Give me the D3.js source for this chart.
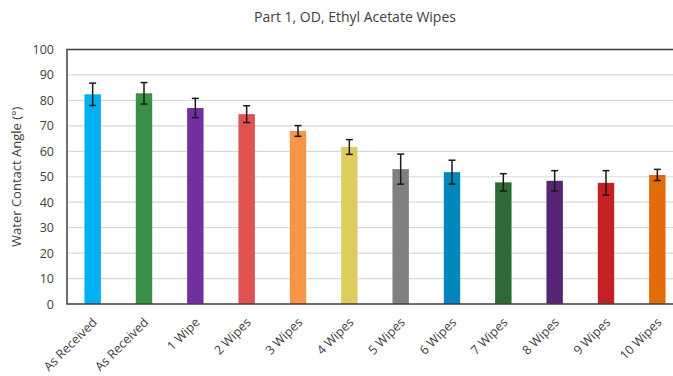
<!DOCTYPE html>
<html>
<head>
<meta charset="utf-8">
<script src="https://cdn.jsdelivr.net/npm/d3@7"></script>
<style>
  body { margin: 0; background: #fff; }
  svg { display: block; font-family: "Open Sans", "Noto Sans", sans-serif; }
</style>
</head>
<body>
<div id="chart"></div>
<script>
// data
var categories = ["As Received", "As Received", "1 Wipe", "2 Wipes", "3 Wipes", "4 Wipes",
  "5 Wipes", "6 Wipes", "7 Wipes", "8 Wipes", "9 Wipes", "10 Wipes"];
var angles = [82.4, 82.8, 77.0, 74.6, 68.0, 61.7, 53.0, 51.8, 47.8, 48.4, 47.6, 50.7];
var errors = [4.4, 4.2, 3.8, 3.3, 2.1, 2.9, 5.9, 4.7, 3.4, 4.0, 4.8, 2.2];
var barColors = ["#00b0f0", "#3c8f49", "#7030a0", "#e05252", "#f79646", "#ddcc5e",
  "#808080", "#0087bb", "#2d6a36", "#582576", "#c42127", "#e36c0a"];
var yTicks = [0, 10, 20, 30, 40, 50, 60, 70, 80, 90, 100];

var W = 673, H = 376;
// plot area runs past the right edge, as in the cropped original
var plotL = 67, plotR = 683, plotT = 49.5, plotB = 304;

var svg = d3.select("#chart").append("svg")
  .attr("width", W)
  .attr("height", H);

var x = d3.scaleBand()
  .domain(d3.range(categories.length))
  .range([plotL, plotR])
  .paddingInner(0.68)
  .paddingOuter(0.34);

var y = d3.scaleLinear().domain([0, 100]).range([plotB, plotT]);

// title
svg.append("text")
  .attr("x", 355)
  .attr("y", 22)
  .attr("text-anchor", "middle")
  .style("font-size", "14px")
  .style("fill", "#404040")
  .text("Part 1, OD, Ethyl Acetate Wipes");

// gridlines
svg.append("g")
  .selectAll("line")
  .data(yTicks.filter(function (d) { return d > 0 && d < 100; }))
  .enter()
  .append("line")
  .attr("x1", plotL)
  .attr("x2", plotR)
  .attr("y1", function (d) { return y(d); })
  .attr("y2", function (d) { return y(d); })
  .style("stroke", "#d9d9d9")
  .style("stroke-width", 1.2);

// y axis labels
var yAxis = svg.append("g")
  .attr("transform", "translate(" + plotL + ",0)")
  .call(d3.axisLeft(y).tickValues(yTicks).tickSize(0).tickPadding(13));
yAxis.select(".domain").remove();
yAxis.selectAll("text")
  .style("font-size", "12.5px")
  .style("fill", "#404040")
  .style("font-family", "'Open Sans', sans-serif");

// bars
svg.append("g")
  .selectAll("rect")
  .data(angles)
  .enter()
  .append("rect")
  .attr("x", function (d, i) { return x(i); })
  .attr("y", function (d) { return y(d); })
  .attr("width", x.bandwidth())
  .attr("height", function (d) { return y(0) - y(d); })
  .style("fill", function (d, i) { return barColors[i]; });

// error bars
var err = svg.append("g")
  .selectAll("g")
  .data(angles)
  .enter()
  .append("g")
  .style("stroke", "#1a1a1a")
  .style("stroke-width", 1.5);

err.append("line")
  .attr("x1", function (d, i) { return x(i) + x.bandwidth() / 2; })
  .attr("x2", function (d, i) { return x(i) + x.bandwidth() / 2; })
  .attr("y1", function (d, i) { return y(d + errors[i]); })
  .attr("y2", function (d, i) { return y(d - errors[i]); });

[1, -1].forEach(function (s) {
  err.append("line")
    .attr("x1", function (d, i) { return x(i) + x.bandwidth() / 2 - 3.5; })
    .attr("x2", function (d, i) { return x(i) + x.bandwidth() / 2 + 3.5; })
    .attr("y1", function (d, i) { return y(d + s * errors[i]); })
    .attr("y2", function (d, i) { return y(d + s * errors[i]); });
});

// plot frame
svg.append("path")
  .attr("d", "M" + plotR + "," + plotT + "H" + plotL + "V" + plotB + "H" + plotR)
  .style("fill", "none")
  .style("stroke", "#3f3f3f")
  .style("stroke-width", 1.5);

// x labels, rotated
svg.append("g")
  .selectAll("text")
  .data(categories)
  .enter()
  .append("text")
  .attr("transform", function (d, i) {
    return "translate(" + (x(i) + x.bandwidth() / 2 + 2) + "," + (plotB + 16) + ") rotate(-45)";
  })
  .attr("text-anchor", "end")
  .attr("dy", "0.35em")
  .style("font-size", "12.5px")
  .style("fill", "#404040")
  .text(function (d) { return d; });

// y axis title
svg.append("text")
  .attr("transform", "translate(21," + ((plotT + plotB) / 2) + ") rotate(-90)")
  .attr("text-anchor", "middle")
  .style("font-size", "13px")
  .style("fill", "#404040")
  .text("Water Contact Angle (°)");
</script>
</body>
</html>
